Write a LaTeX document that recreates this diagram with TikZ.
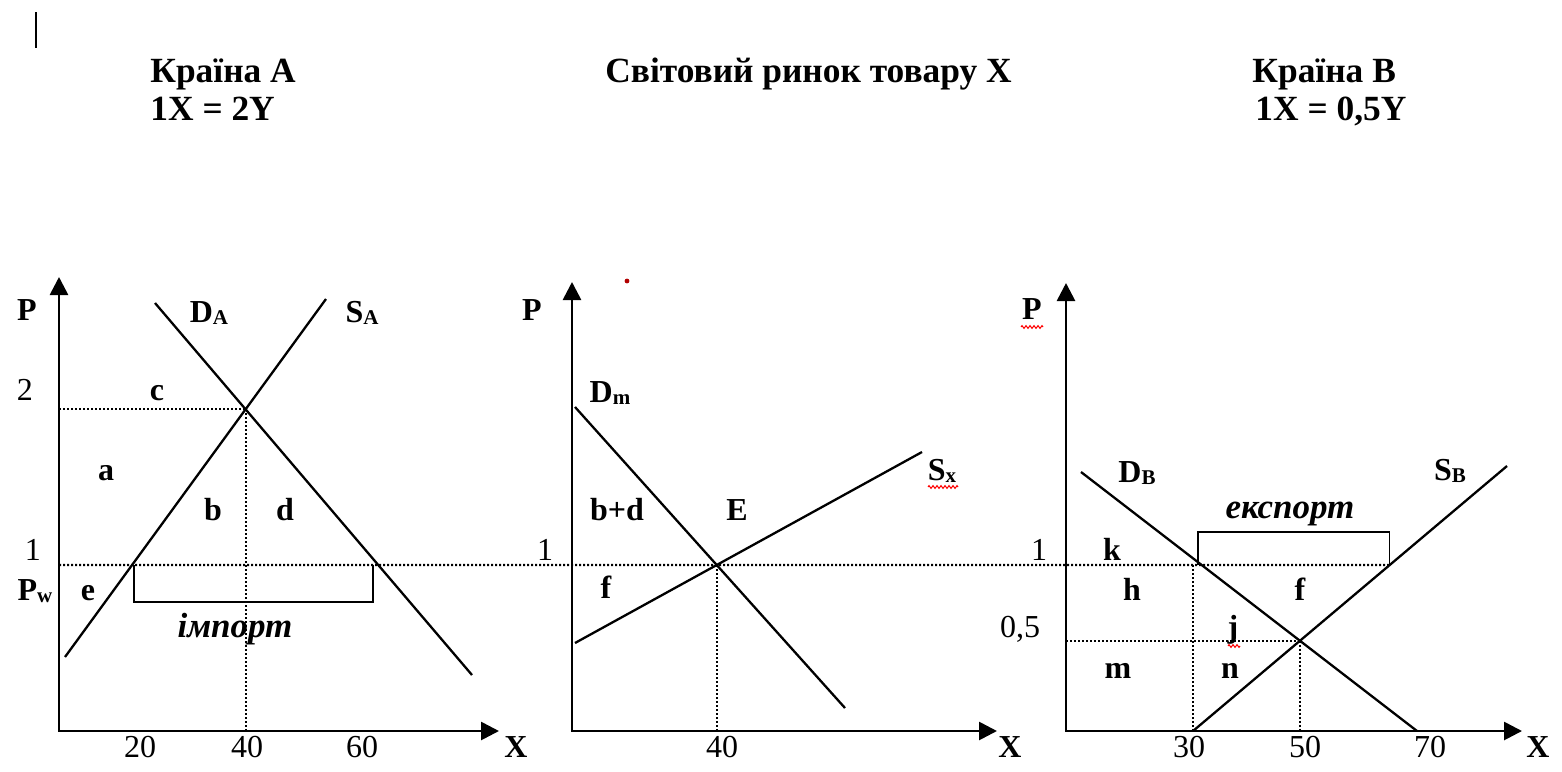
\documentclass[tikz,border=0pt]{standalone}
\usepackage{fontspec}
\setmainfont{Liberation Serif}
\usetikzlibrary{arrows.meta,decorations.pathmorphing}
\newcommand\ttlfont{\fontsize{17.7}{21}\selectfont\bfseries}
\newcommand\lblfont{\fontsize{16}{19}\selectfont\bfseries}
\newcommand\itlfont{\fontsize{17.5}{20}\selectfont\bfseries\itshape}
\newcommand\numfont{\fontsize{16}{19}\selectfont}
\newcommand\lsub[1]{\raisebox{-1.2pt}{\fontsize{10.5}{12}\selectfont #1}}
\begin{document}
\begin{tikzpicture}[x=0.5pt,y=-0.5pt,
  ttl/.style={inner sep=0pt, anchor=base west, font=\ttlfont},
  lbl/.style={inner sep=0pt, anchor=base, font=\lblfont},
  num/.style={inner sep=0pt, anchor=base, font=\numfont},
  ital/.style={inner sep=0pt, anchor=base, font=\itlfont},
  axisline/.style={line width=1.35pt, line join=miter,
    {Triangle[length=9pt,width=9pt]}-{Triangle[length=9pt,width=9pt]}},
  curve/.style={line width=1.15pt},
  dots/.style={line width=1.05pt, dash pattern=on 1pt off 1pt},
  bracket/.style={line width=0.75pt},
  squiggle/.style={red, line width=0.5pt, decorate,
    decoration={zigzag, segment length=2pt, amplitude=0.7pt}}]
\useasboundingbox (0,0) rectangle (1562,771);

% text cursor
\coordinate (cur1) at (36,12);
\coordinate (cur2) at (36,48);
\draw[line width=0.8pt] (cur1) -- (cur2);

% titles
\node[ttl] (tA1) at (150,82) {Країна A};
\node[ttl] (tA2) at (150,120) {1X = 2Y};
\node[ttl] (tM)  at (605,82) {Світовий ринок товару X};
\node[ttl] (tB1) at (1252,82) {Країна B};
\node[ttl] (tB2) at (1255,120) {1X = 0,5Y};

% ---------------- Panel A ----------------
\coordinate (OA) at (59,731);
\coordinate (YA) at (59,277);
\coordinate (XA) at (499,731);
\draw[axisline] (YA) -- (OA) -- (XA);
\coordinate (DA1) at (155,303);
\coordinate (DA2) at (472,675);
\coordinate (SA1) at (65,657);
\coordinate (SA2) at (326,299);
\draw[curve] (DA1) -- (DA2);
\draw[curve] (SA1) -- (SA2);
\coordinate (EA) at (intersection of DA1--DA2 and SA1--SA2);
\draw[dots] (EA -| OA) -- (EA);
\draw[dots] (EA) -- (EA |- OA);

% world price line
\coordinate (PW1) at (59,565);
\coordinate (PWfar) at (1562,565);

% ---------------- Panel B (coordinates) ----------------
\coordinate (OB) at (1066,731);
\coordinate (YB) at (1066,283);
\coordinate (XB) at (1522,731);
\coordinate (DB1) at (1081,472);
\coordinate (DB2) at (1417,731);
\coordinate (SB1) at (1193,731);
\coordinate (SB2) at (1507,466);
\coordinate (PWB) at (intersection of SB1--SB2 and PW1--PWfar);
\draw[dots] (PW1) -- (PWB);

% import bracket
\coordinate (ImL) at (134,565);
\coordinate (ImR) at (373,565);
\draw[bracket] (ImL) -- ++(0,37) -| (ImR);

\node[lbl] (PA) at (27,320) {P};
\node[lbl] (DAl) at (209,322) {D\lsub{A}};
\node[lbl] (SAl) at (362,322) {S\lsub{A}};
\node[num] (n2A) at (25,400) {2};
\node[lbl] (cA) at (157,400) {c};
\node[lbl] (aA) at (106,480) {a};
\node[lbl] (bA) at (213,520) {b};
\node[lbl] (dA) at (285,520) {d};
\node[num] (n1A) at (33,560) {1};
\node[lbl] (PwA) at (35,600) {P\lsub{w}};
\node[lbl] (eA) at (88,600) {e};
\node[ital] (imp) at (235,637) {імпорт};
\node[num] (t20) at (140,757) {20};
\node[num] (t40A) at (247,757) {40};
\node[num] (t60) at (362,757) {60};
\node[lbl] (XAl) at (516,757) {X};

% ---------------- Middle panel ----------------
\coordinate (OM) at (572,731);
\coordinate (YM) at (572,282);
\coordinate (XM) at (997,731);
\draw[axisline] (YM) -- (OM) -- (XM);
\coordinate (DM1) at (575,407);
\coordinate (DM2) at (845,708);
\coordinate (SX1) at (575,643);
\coordinate (SX2) at (922,452);
\draw[curve] (DM1) -- (DM2);
\draw[curve] (SX1) -- (SX2);
\coordinate (EM) at (intersection of DM1--DM2 and SX1--SX2);
\draw[dots] (EM) -- (EM |- OM);

\coordinate (rdot) at (627,281);
\fill[red!70!black] (rdot) circle (1.2pt);
\node[lbl] (PM) at (532,320) {P};
\node[lbl] (DMl) at (610,402) {D\lsub{m}};
\node[lbl] (SXl) at (942,480) {S\lsub{x}};
\coordinate (sq1a) at (928,487);
\coordinate (sq1b) at (958,487);
\draw[squiggle] (sq1a) -- (sq1b);
\node[lbl] (bd) at (617,520) {b+d};
\node[lbl] (El) at (737,520) {E};
\node[num] (n1M) at (545,560) {1};
\node[lbl] (fM) at (606,598) {f};
\node[num] (t40M) at (722,757) {40};
\node[lbl] (XMl) at (1010,757) {X};

% ---------------- Panel B ----------------
\draw[axisline] (YB) -- (OB) -- (XB);
\draw[curve] (DB1) -- (DB2);
\draw[curve] (SB1) -- (SB2);
\coordinate (EB) at (intersection of DB1--DB2 and SB1--SB2);
\draw[dots] (EB -| OB) -- (EB);
\draw[dots] (EB) -- (EB |- OB);
\draw[dots] (SB1) -- (SB1 |- PW1);
\coordinate (ExL) at (1198,565);
\draw[bracket] (ExL) -- ++(0,-33) -| (PWB);

\node[lbl] (PB) at (1032,319) {P};
\coordinate (sq2a) at (1021,327);
\coordinate (sq2b) at (1043,327);
\draw[squiggle] (sq2a) -- (sq2b);
\node[lbl] (DBl) at (1137,482) {D\lsub{B}};
\node[lbl] (SBl) at (1450,480) {S\lsub{B}};
\node[ital] (exp) at (1290,518) {експорт};
\node[num] (n1B) at (1039,560) {1};
\node[lbl] (kB) at (1112,560) {k};
\node[lbl] (hB) at (1132,600) {h};
\node[lbl] (fB) at (1300,600) {f};
\node[num] (n05) at (1020,637) {0,5};
\node[lbl] (jB) at (1233,637) {j};
\coordinate (sq3a) at (1228,646);
\coordinate (sq3b) at (1240,646);
\draw[squiggle] (sq3a) -- (sq3b);
\node[lbl] (mB) at (1118,678) {m};
\node[lbl] (nB) at (1230,678) {n};
\node[num] (t30) at (1189,757) {30};
\node[num] (t50) at (1305,757) {50};
\node[num] (t70) at (1430,757) {70};
\node[lbl] (XBl) at (1538,757) {X};
\end{tikzpicture}
\end{document}
